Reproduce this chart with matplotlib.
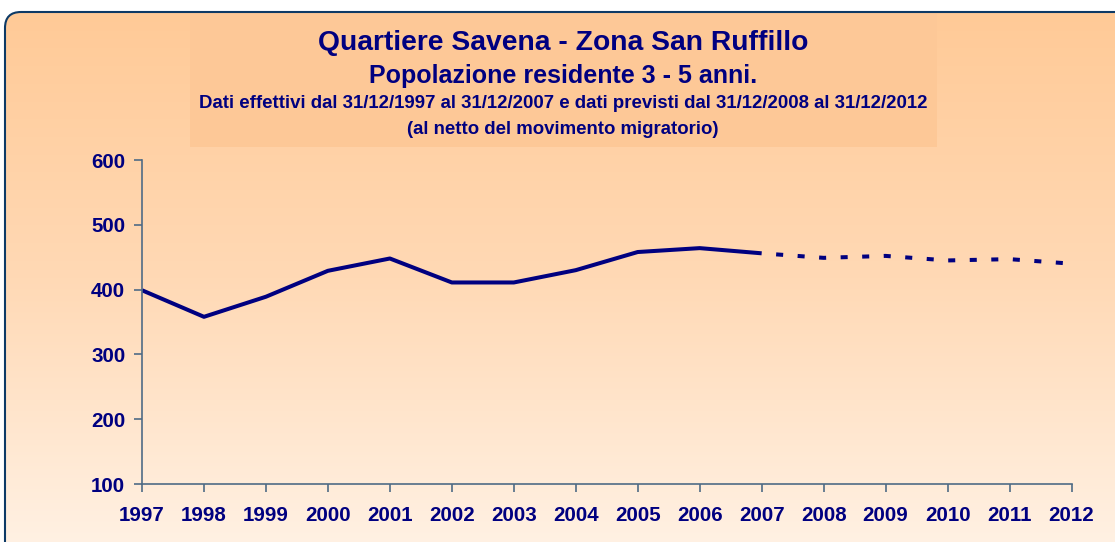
"""Quartiere Savena - Zona San Ruffillo: popolazione residente 3-5 anni."""

import numpy as np
import matplotlib
matplotlib.use("Agg")
import matplotlib.pyplot as plt
from matplotlib.colors import LinearSegmentedColormap
from matplotlib.patches import FancyBboxPatch, Rectangle

plt.rcParams["font.family"] = ["Liberation Sans", "DejaVu Sans"]
plt.rcParams["font.weight"] = "bold"

NAVY = "#000080"
AXIS = "#4f6b86"

# Data (effettivi 1997-2007, previsti 2008-2012)
years_actual = [1997, 1998, 1999, 2000, 2001, 2002, 2003, 2004, 2005, 2006, 2007]
pop_actual = [399, 358, 389, 429, 448, 411, 411, 430, 458, 464, 456]
years_forecast = [2007, 2008, 2009, 2010, 2011, 2012]
pop_forecast = [456, 449, 452, 445, 447, 440]
year_ticks = list(range(1997, 2013))
pop_ticks = [100, 200, 300, 400, 500, 600]

title = "Quartiere Savena - Zona San Ruffillo"
subtitle = "Popolazione residente 3 - 5 anni."
note1 = ("Dati effettivi dal 31/12/1997 al 31/12/2007 e dati previsti "
         "dal 31/12/2008 al 31/12/2012")
note2 = "(al netto del movimento migratorio)"


def main() -> None:
    W, H = 1115, 542
    fig = plt.figure(figsize=(W / 100, H / 100), dpi=100)
    fig.patch.set_facecolor("white")

    # Background panel in pixel coordinates (runs off the right and bottom edge)
    bg = fig.add_axes([0, 0, 1, 1])
    bg.set_xlim(0, W)
    bg.set_ylim(H, 0)
    bg.axis("off")

    frame = FancyBboxPatch((5, 12), 1400, 548,
                           boxstyle="round,pad=0,rounding_size=16",
                           facecolor="none", edgecolor="#0d3a66", linewidth=1.5,
                           zorder=3)
    cmap = LinearSegmentedColormap.from_list("peach", ["#ffca97", "#ffd9b5", "#fff1e3"])
    grad = np.linspace(0, 1, 256).reshape(-1, 1)
    im = bg.imshow(grad, cmap=cmap, aspect="auto", extent=[5, W, 545, 12],
                   zorder=1)
    bg.add_patch(frame)
    im.set_clip_path(frame)
    bg.set_xlim(0, W)
    bg.set_ylim(H, 0)
    bg.add_patch(Rectangle((190, 13), 747, 134, facecolor="#fdc897",
                           edgecolor="none", zorder=2))

    cx = 563
    bg.text(cx, 43, title, ha="center", va="center", fontsize=20.3,
            color=NAVY, fontweight="bold", zorder=4)
    bg.text(cx, 76, subtitle, ha="center", va="center", fontsize=18,
            color=NAVY, fontweight="bold", zorder=4)
    bg.text(cx, 103, note1, ha="center", va="center", fontsize=13.4,
            color=NAVY, fontweight="bold", zorder=4)
    bg.text(cx, 129, note2, ha="center", va="center", fontsize=13.4,
            color=NAVY, fontweight="bold", zorder=4)

    # Chart axes
    ax = fig.add_axes([142 / W, 1 - 484 / H, (1071.5 - 142) / W, (484 - 160) / H])
    ax.set_facecolor("none")
    ax.plot(years_actual, pop_actual, color=NAVY, linewidth=2.9,
            solid_joinstyle="round", solid_capstyle="butt")
    ax.plot(years_forecast, pop_forecast, color=NAVY, linewidth=2.9,
            linestyle=(1.75, (1.75, 3.6)), dash_capstyle="butt")

    ax.set_xlim(1997, 2012)
    ax.set_ylim(100, 600)
    ax.set_xticks(year_ticks)
    ax.set_yticks(pop_ticks)
    ax.set_xticklabels([str(y) for y in year_ticks])
    ax.set_yticklabels([str(v) for v in pop_ticks])
    for side in ("top", "right"):
        ax.spines[side].set_visible(False)
    for side in ("left", "bottom"):
        ax.spines[side].set_color(AXIS)
        ax.spines[side].set_linewidth(1.2)
    ax.tick_params(axis="both", colors=AXIS, length=6, width=1.2,
                   labelcolor=NAVY, labelsize=14.8)
    ax.tick_params(axis="x", pad=10)
    ax.tick_params(axis="y", pad=6)
    for lbl in ax.get_xticklabels() + ax.get_yticklabels():
        lbl.set_fontweight("bold")

    fig.savefig("out.png", dpi=100)


if __name__ == "__main__":
    main()
